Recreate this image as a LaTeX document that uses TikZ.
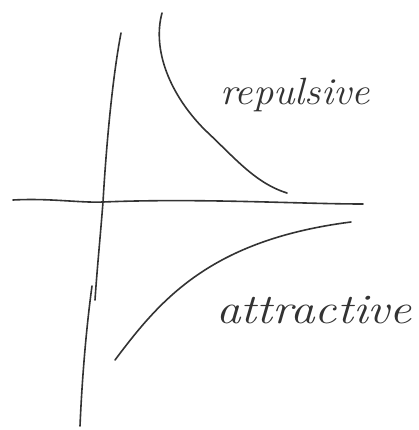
\documentclass[tikz,border=0pt]{standalone}
\usepackage{fontspec}
\begin{document}
\begin{tikzpicture}[x=1pt,y=-1pt,
  ink/.style={draw=black!80, line width=1.6pt, line cap=round, line join=round},
  hand/.style={text=black!80, font=\fontsize{38}{40}\selectfont\itshape, inner sep=0pt}]
\useasboundingbox (0,0) rectangle (419,430);
% vertical axis (two strokes)
\coordinate (vt) at (121,33);
\coordinate (vb) at (95,300);
\coordinate (v2t) at (92,286);
\coordinate (v2b) at (80,426);
\draw[ink] (vt) .. controls (112,80) and (106,150) .. (103,202) .. controls (100,240) and (97,270) .. (vb);
\draw[ink] (v2t) .. controls (86,330) and (82,380) .. (v2b);
% horizontal axis
\coordinate (hl) at (13,200);
\coordinate (hr) at (363,204);
\draw[ink] (hl) .. controls (50,198) and (80,203) .. (103,202) .. controls (200,198) and (300,204) .. (hr);
% repulsive curve
\coordinate (rt) at (162,13);
\coordinate (rb) at (287,193);
\draw[ink] (rt) .. controls (152,50) and (170,95) .. (205,130) .. controls (235,158) and (255,183) .. (rb);
% attractive curve
\coordinate (at) at (351,222);
\coordinate (ab) at (115,360);
\draw[ink] (ab) .. controls (160,300) and (210,240) .. (at);
% labels
\node[hand, xscale=1.07] (rep) at (295,95) {repulsive};
\node[hand, font=\fontsize{42}{44}\selectfont\itshape, xscale=1.17] (att) at (314,310) {attractive};
\end{tikzpicture}
\end{document}
